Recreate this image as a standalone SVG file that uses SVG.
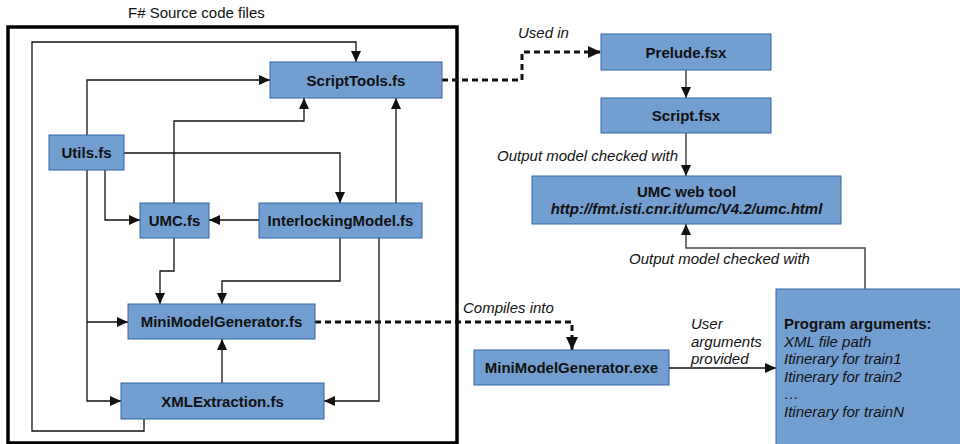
<svg xmlns="http://www.w3.org/2000/svg" width="960" height="444" viewBox="0 0 960 444">
<defs>
<style>
.node{fill:#729fcf;stroke:#3465a4;stroke-width:1}
.lbl{font-family:"Liberation Sans",Arial,sans-serif;font-size:15px;font-weight:bold;fill:#111;text-anchor:middle}
.it{font-family:"Liberation Sans",Arial,sans-serif;font-size:15px;font-style:italic;fill:#111}
.ed{fill:none;stroke:#111;stroke-width:1.3}
.edg{fill:none;stroke:#444;stroke-width:1.5}
.dash{fill:none;stroke:#111;stroke-width:3;stroke-dasharray:6,4}
</style>
<marker id="ah" markerUnits="userSpaceOnUse" markerWidth="11" markerHeight="10" refX="11" refY="5" orient="auto">
<path d="M0,0 L11,5 L0,10 z" fill="#111" stroke="none"/>
</marker>
<marker id="ahb" markerUnits="userSpaceOnUse" markerWidth="13" markerHeight="12" refX="13" refY="6" orient="auto">
<path d="M0,0 L13,6 L0,12 z" fill="#111" stroke="none"/>
</marker>
</defs>
<rect width="960" height="444" fill="#ffffff"/>
<g id="source-files">
<rect x="8" y="27" width="449" height="416" fill="none" stroke="#000" stroke-width="3.5"/>
<text class="it" style="font-style:normal" x="128" y="18">F# Source code files</text>
</g>
<g id="connectors">
<path class="ed" d="M144,419 V431 H32 V42 H356 V62" marker-end="url(#ah)"/>
<path class="ed" d="M87,135 V80 H270" marker-end="url(#ah)"/>
<path class="ed" d="M174,203 V121 H304 V98" marker-end="url(#ah)"/>
<path class="ed" d="M396,203 V98" marker-end="url(#ah)"/>
<path class="ed" d="M124,153 H340 V203" marker-end="url(#ah)"/>
<path class="ed" d="M105,170 V220 H140" marker-end="url(#ah)"/>
<path class="ed" d="M259,220 H209" marker-end="url(#ah)"/>
<path class="ed" d="M87,170 V401 H121" marker-end="url(#ah)"/>
<path class="ed" d="M87,322 H128" marker-end="url(#ah)"/>
<path class="ed" d="M174,238 V271 H160 V304" marker-end="url(#ah)"/>
<path class="ed" d="M340,238 V281 H222 V304" marker-end="url(#ah)"/>
<path class="ed" d="M379,238 V401 H324" marker-end="url(#ah)"/>
<path class="ed" d="M222,383 V339" marker-end="url(#ah)"/>
<path class="dash" d="M442,80 H522 V52 H601" marker-end="url(#ahb)"/>
<path class="edg" d="M686,70 V98" marker-end="url(#ah)"/>
<path class="edg" d="M686,133 V176" marker-end="url(#ah)"/>
<path class="edg" d="M865,289 V248 H686 V224" marker-end="url(#ah)"/>
<path class="dash" d="M315,322 H572 V350" marker-end="url(#ahb)"/>
<path class="ed" d="M669,368 H776" marker-end="url(#ah)"/>
<text class="it" x="518" y="38">Used in</text>
<text class="it" x="678" y="161" text-anchor="end">Output model checked with</text>
<text class="it" x="629" y="264">Output model checked with</text>
<text class="it" x="463" y="313">Compiles into</text>
<text class="it" x="691" y="329">User</text>
<text class="it" x="691" y="347">arguments</text>
<text class="it" x="691" y="364">provided</text>
</g>
<g id="scripttools">
<rect class="node" x="270" y="62" width="172" height="36"/>
<text class="lbl" x="356" y="85.5">ScriptTools.fs</text>
</g>
<g id="utils">
<rect class="node" x="49" y="135" width="75" height="35"/>
<text class="lbl" x="86.5" y="158">Utils.fs</text>
</g>
<g id="umc">
<rect class="node" x="140" y="203" width="69" height="35"/>
<text class="lbl" x="174.5" y="226">UMC.fs</text>
</g>
<g id="interlocking">
<rect class="node" x="259" y="203" width="163" height="35"/>
<text class="lbl" x="340.5" y="226">InterlockingModel.fs</text>
</g>
<g id="minimodelgen">
<rect class="node" x="128" y="304" width="187" height="35"/>
<text class="lbl" x="221.5" y="327">MiniModelGenerator.fs</text>
</g>
<g id="xmlextraction">
<rect class="node" x="121" y="383" width="203" height="36"/>
<text class="lbl" x="222.5" y="406.5">XMLExtraction.fs</text>
</g>
<g id="prelude">
<rect class="node" x="601" y="34" width="170" height="36"/>
<text class="lbl" x="686" y="57.5">Prelude.fsx</text>
</g>
<g id="script">
<rect class="node" x="601" y="98" width="170" height="35"/>
<text class="lbl" x="686" y="121">Script.fsx</text>
</g>
<g id="umcweb">
<rect class="node" x="532" y="176" width="309" height="48"/>
<text class="lbl" x="686.5" y="197">UMC web tool</text>
<text class="lbl" x="686.5" y="214" style="font-style:italic">http://fmt.isti.cnr.it/umc/V4.2/umc.html</text>
</g>
<g id="mmgexe">
<rect class="node" x="474" y="350" width="195" height="35"/>
<text class="lbl" x="571.5" y="373">MiniModelGenerator.exe</text>
</g>
<g id="progargs">
<rect class="node" x="776" y="289" width="200" height="170"/>
<text class="it" x="784" y="329" style="font-weight:bold;font-style:normal">Program arguments:</text>
<text class="it" x="784" y="347">XML file path</text>
<text class="it" x="784" y="364">Itinerary for train1</text>
<text class="it" x="784" y="382">Itinerary for train2</text>
<text class="it" x="784" y="399">…</text>
<text class="it" x="784" y="417">Itinerary for trainN</text>
</g>
</svg>
